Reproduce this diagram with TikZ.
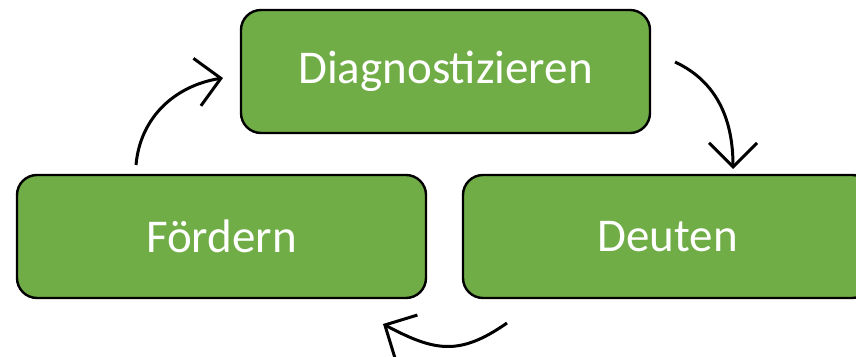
\documentclass[tikz,border=0pt]{standalone}
\usepackage{fontspec}
\setmainfont{Carlito}
\usetikzlibrary{calc,arrows.meta,positioning}
\definecolor{stagegreen}{HTML}{70AD47}

\begin{document}
\begin{tikzpicture}[x=0.5pt,y=0.5pt,{stage/.style={rectangle,draw=black,fill=stagegreen,line width=1.2pt,rounded corners=10pt,minimum width=204.5pt,minimum height=61.5pt,outer sep=0pt,text=white,font=\fontsize{23.5}{28}\selectfont}},{cyclearrow/.style={line width=1.5pt,-{Straight Barb[angle=90:17pt]}}}]
	%%frame of the picture
	\useasboundingbox (0,0) rectangle (856,357);
	%%the three stages
	\node [stage] (diag) at (445.5,285.5) {Diagnostizieren};
	\node [stage] (foerd) at (221.5,120.5) {Fördern};
	\node [stage] (deut) at (667.5,120.5) {Deuten};
	%%arrows of the cycle
	\draw [cyclearrow] ($(diag.east)+(25,9.5)$) to[out=-25,in=90] ($(deut.north)+(65.5,6)$);
	\draw [cyclearrow] ($(deut.south)+(-160.5,-25)$) to[out=215,in=-28,looseness=1.2] ($(foerd.south)+(161.5,-26)$);
	\draw [cyclearrow] ($(foerd.north)+(-85.5,10)$) to[out=85,in=189] ($(diag.west)+(-18,-6.5)$);
\end{tikzpicture}
\end{document}
